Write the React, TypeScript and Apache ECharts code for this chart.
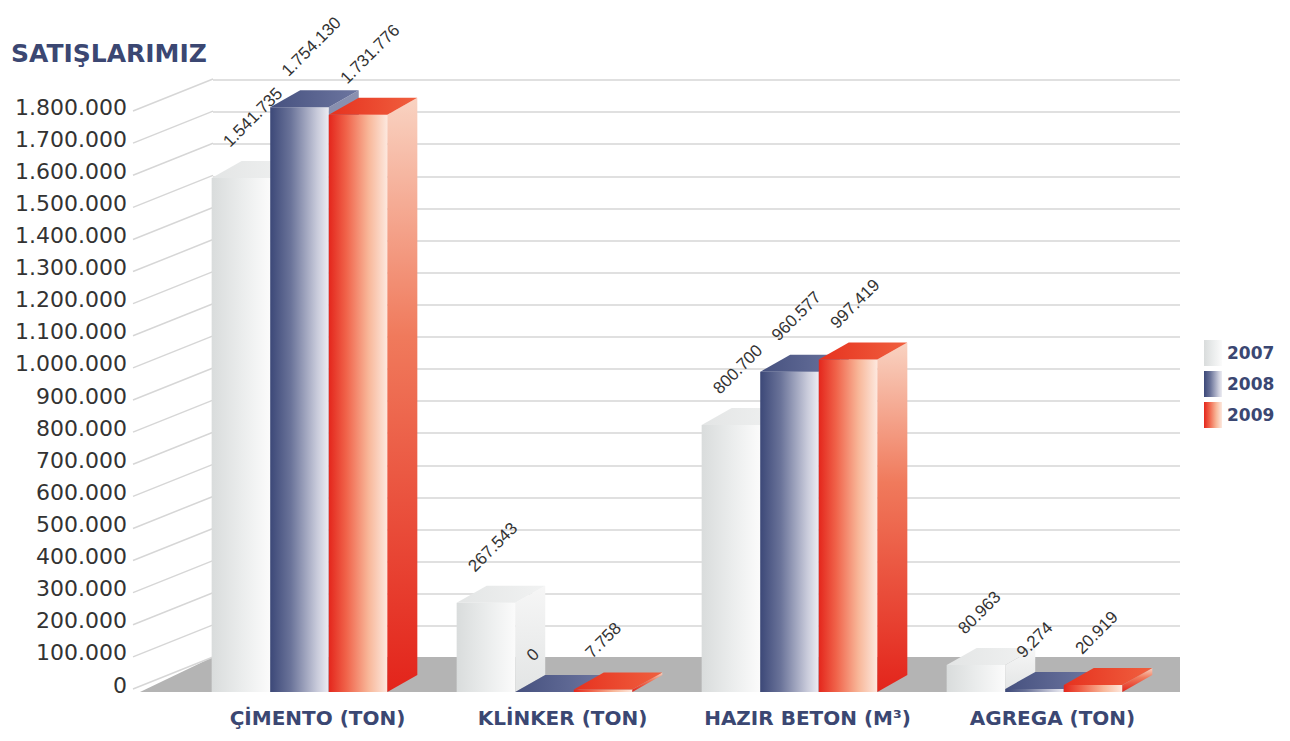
import React, { useEffect, useRef } from "react";
import * as echarts from "echarts";

const categories = ["ÇİMENTO (TON)", "KLİNKER (TON)", "HAZIR BETON (M³)", "AGREGA (TON)"];
const years = ["2007", "2008", "2009"];
const sales2007 = [1541735, 267543, 800700, 80963];
const sales2008 = [1754130, 0, 960577, 9274];
const sales2009 = [1731776, 7758, 997419, 20919];
const yTicks = [
  0, 100000, 200000, 300000, 400000, 500000, 600000, 700000, 800000, 900000,
  1000000, 1100000, 1200000, 1300000, 1400000, 1500000, 1600000, 1700000, 1800000,
];

const FONT = "DejaVu Sans";
const LABEL_FONT = "Liberation Sans";
const TITLE_COLOR = "#3b4772";

const fmt = (n: number) => String(n).replace(/\B(?=(\d{3})+(?!\d))/g, ".");

const lg = (x2: number, y2: number, stops: [number, string][]) =>
  new echarts.graphic.LinearGradient(0, 0, x2, y2, stops.map(([offset, color]) => ({ offset, color })));

const palettes = [
  {
    front: () => lg(1, 0, [[0, "#d9dcdc"], [0.5, "#eaecec"], [1, "#fbfbfb"]]),
    side: () => lg(0, 1, [[0, "#f6f6f6"], [1, "#e3e5e5"]]),
    top: () => lg(1, 0, [[0, "#e3e5e5"], [1, "#f1f2f2"]]),
  },
  {
    front: () => lg(1, 0, [[0, "#3c4878"], [0.35, "#6a7399"], [0.8, "#c8cada"], [1, "#ececf2"]]),
    side: () => lg(0, 1, [[0, "#8a91b0"], [1, "#4a5584"]]),
    top: () => lg(1, 0, [[0, "#46517f"], [1, "#6d76a0"]]),
  },
  {
    front: () => lg(1, 0, [[0, "#e4261c"], [0.3, "#f0634a"], [0.68, "#f8b799"], [1, "#fde8de"]]),
    side: () => lg(0, 1, [[0, "#f9d3c2"], [0.4, "#f07a5c"], [1, "#e3241b"]]),
    top: () => lg(1, 0, [[0, "#e6321f"], [1, "#f0603f"]]),
  },
];

const DX = 30;
const DY = -17;

function barGeom(api: any, si: number) {
  const c = api.value(0);
  const v = api.value(1);
  const base = api.coord([c, 0]);
  const top = api.coord([c, v]);
  const band = api.size([1, 0])[0];
  const w = band * 0.239;
  const xl = base[0] - 1.5 * w + si * w;
  return { xl, w, yb: base[1], yt: top[1], v };
}

function makeBarRender(si: number) {
  return (_params: any, api: any) => {
    const { xl, w, yb, yt } = barGeom(api, si);
    const p = palettes[si];
    return {
      type: "group",
      children: [
        { type: "rect", shape: { x: xl, y: yt, width: w, height: Math.max(yb - yt, 0.01) }, style: { fill: p.front() } },
        {
          type: "polygon",
          shape: { points: [[xl + w, yt], [xl + w + DX, yt + DY], [xl + w + DX, yb + DY], [xl + w, yb]] },
          style: { fill: p.side() },
        },
        {
          type: "polygon",
          shape: { points: [[xl, yt], [xl + DX, yt + DY], [xl + w + DX, yt + DY], [xl + w, yt]] },
          style: { fill: p.top() },
        },
      ],
    };
  };
}

function makeLabelRender(si: number) {
  return (_params: any, api: any) => {
    const { xl, w, yt, v } = barGeom(api, si);
    return {
      type: "text",
      x: xl + w * 0.35,
      y: yt - 28,
      rotation: Math.PI / 4,
      style: {
        text: fmt(v),
        fill: "#333333",
        font: `17px '${LABEL_FONT}'`,
        align: "left",
        verticalAlign: "bottom",
      },
    };
  };
}

const seriesData = [sales2007, sales2008, sales2009];

export default function App() {
  const ref = useRef<HTMLDivElement>(null);
  useEffect(() => {
    if (!ref.current) return;
    const chart = echarts.init(ref.current, null, { renderer: "svg" });

    const barSeries = years.map((y, si) => ({
      name: y,
      type: "custom",
      xAxisIndex: 2,
      yAxisIndex: 2,
      z: 2,
      itemStyle: { color: palettes[si].front() },
      renderItem: makeBarRender(si),
      encode: { x: 0, y: 1 },
      data: seriesData[si].map((v, i) => [i, v]),
    }));
    const labelSeries = years.map((y, si) => ({
      name: y + "-label",
      type: "custom",
      xAxisIndex: 2,
      yAxisIndex: 2,
      z: 4,
      renderItem: makeLabelRender(si),
      encode: { x: 0, y: 1 },
      data: seriesData[si].map((v, i) => [i, v]),
    }));

    chart.setOption({
      animation: false,
      backgroundColor: "#ffffff",
      title: {
        text: "SATIŞLARIMIZ",
        left: 6,
        top: 36,
        textStyle: { fontSize: 25, fontWeight: "bold", color: TITLE_COLOR, fontFamily: FONT },
      },
      legend: {
        data: years,
        orient: "vertical",
        left: 1199,
        top: 335,
        itemWidth: 18,
        itemHeight: 26,
        itemGap: 5,
        icon: "rect",
        textStyle: { fontSize: 17, fontWeight: "bold", color: TITLE_COLOR, fontFamily: FONT },
      },
      graphic: [
        {
          type: "polygon",
          z: 1,
          shape: { points: [[140, 692], [213, 657], [1180, 657], [1180, 692]] },
          style: { fill: "#b4b4b4" },
        },
      ],
      grid: [
        { left: 133, right: 1290 - 213, top: 107, bottom: 56 },
        { left: 213, right: 110, top: 80, bottom: 83 },
        { left: 177, right: 133, top: 92, bottom: 49 },
      ],
      xAxis: [
        { gridIndex: 0, type: "value", min: 0, max: 1, show: false },
        { gridIndex: 1, type: "value", min: 0, max: 1, show: false },
        {
          gridIndex: 2,
          type: "category",
          data: categories,
          axisLine: { show: false },
          axisTick: { show: false },
          axisLabel: {
            interval: 0,
            hideOverlap: false,
            margin: 16,
            padding: [0, 0, 0, 36],
            fontSize: 20,
            fontWeight: "bold",
            color: TITLE_COLOR,
            fontFamily: FONT,
          },
        },
      ],
      yAxis: [
        {
          gridIndex: 0,
          type: "value",
          min: 0,
          max: 1800000,
          interval: 100000,
          axisLine: { show: false },
          axisTick: { show: false },
          splitLine: { show: false },
          axisLabel: {
            margin: 6,
            fontSize: 22,
            color: "#333333",
            fontFamily: FONT,
            formatter: (v: number) => fmt(v),
          },
        },
        {
          gridIndex: 1,
          type: "value",
          min: 0,
          max: 1800000,
          interval: 100000,
          axisLine: { show: false },
          axisTick: { show: false },
          axisLabel: { show: false },
          splitLine: { show: true, lineStyle: { color: "#d6d6d6", width: 1.5 } },
        },
        { gridIndex: 2, type: "value", min: 0, max: 1800000, show: false },
      ],
      series: [
        {
          name: "wall-lines",
          type: "custom",
          xAxisIndex: 0,
          yAxisIndex: 0,
          z: 2,
          renderItem: (_p: any, api: any) => {
            const v = api.value(1);
            const a = api.coord([0, v]);
            const b = api.coord([1, v]);
            return {
              type: "line",
              shape: { x1: a[0], y1: a[1] + 4, x2: b[0], y2: b[1] - 28 },
              style: { stroke: "#d6d6d6", lineWidth: 1.5 },
            };
          },
          encode: { x: 0, y: 1 },
          data: yTicks.map((v) => [0, v]),
        },
        ...barSeries,
        ...labelSeries,
      ],
    });
    return () => chart.dispose();
  }, []);
  return <div ref={ref} style={{ width: 1290, height: 741, margin: -8 }} />;
}
